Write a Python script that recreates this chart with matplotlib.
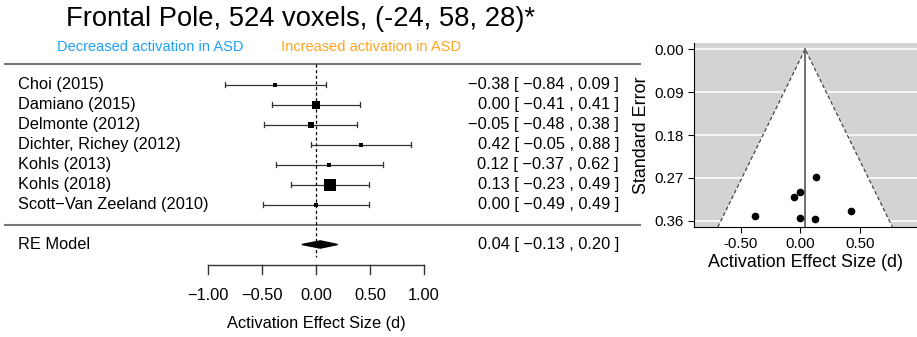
import numpy as np
import matplotlib.pyplot as plt
from matplotlib.patches import Polygon

plt.rcParams['font.family'] = ['Liberation Sans', 'DejaVu Sans']

# данные исследований
studies = ["Choi (2015)", "Damiano (2015)", "Delmonte (2012)", "Dichter, Richey (2012)",
           "Kohls (2013)", "Kohls (2018)", "Scott\u2212Van Zeeland (2010)"]
est = [-0.38, 0.00, -0.05, 0.42, 0.12, 0.13, 0.00]
lo = [-0.84, -0.41, -0.48, -0.05, -0.37, -0.23, -0.49]
hi = [0.09, 0.41, 0.38, 0.88, 0.62, 0.49, 0.49]
weights = [4.7, 7.3, 6.3, 4.3, 4.0, 11.7, 3.7]   # размер квадратов

re_est, re_lo, re_hi = 0.04, -0.13, 0.20
xticks = [-1.0, -0.5, 0.0, 0.5, 1.0]

# данные для funnel plot (как на картинке)
fun_x = [-0.38, 0.00, 0.12, 0.42, 0.13, 0.00, -0.05]
fun_se = [0.350, 0.354, 0.356, 0.340, 0.268, 0.299, 0.310]
se_ticks = [0.00, 0.09, 0.18, 0.27, 0.36]
fun_xticks = [-0.5, 0.0, 0.5]

W, H = 917, 337
fig = plt.figure(figsize=(W / 100, H / 100), dpi=100)

# ---------- forest plot ----------
fw = 645
ax = fig.add_axes([0, 0, fw / W, 1])
ppu = 108.0                       # пикселей на единицу эффекта
x0 = -1 - 208 / ppu
ax.set_xlim(x0, x0 + fw / ppu)
ax.set_ylim((H - 84.5) / 20, -84.5 / 20)
ax.axis('off')

def px(p):
    return x0 + p / ppu

def fmt(v):
    return f"{v:.2f}".replace('-', '\u2212')

fs = 11.8
for i, name in enumerate(studies):
    ax.plot([lo[i], hi[i]], [i, i], color='#333333', lw=0.9)
    ax.plot([lo[i], lo[i]], [i - 0.12, i + 0.12], color='#333333', lw=0.9)
    ax.plot([hi[i], hi[i]], [i - 0.12, i + 0.12], color='#333333', lw=0.9)
    ax.plot(est[i], i, 's', color='black', ms=weights[i] * 0.72, mew=0)
    ax.text(px(18), i, name, ha='left', va='center', fontsize=fs)
    ax.text(px(619), i, f"{fmt(est[i])} [ {fmt(lo[i])} , {fmt(hi[i])} ]",
            ha='right', va='center', fontsize=fs)

re_row = len(studies) + 1
dia = Polygon([[re_lo, re_row], [re_est, re_row - 0.18], [re_hi, re_row], [re_est, re_row + 0.18]],
              closed=True, color='black')
ax.add_patch(dia)
ax.text(px(18), re_row, "RE Model", ha='left', va='center', fontsize=fs)
ax.text(px(619), re_row, f"{fmt(re_est)} [ {fmt(re_lo)} , {fmt(re_hi)} ]",
        ha='right', va='center', fontsize=fs)

# разделительные линии
ax.plot([px(5), px(640)], [-1.05, -1.05], color='#777777', lw=1.5)
ax.plot([px(5), px(640)], [len(studies), len(studies)], color='#777777', lw=1.5)

# пунктир в нуле
ax.plot([0, 0], [-1.05, re_row + 0.6], color='black', lw=0.9, ls=(0, (2.5, 2)))

# ось
ax_row = re_row + 1
ax.plot([xticks[0], xticks[-1]], [ax_row, ax_row], color='#333333', lw=1.0)
for t in xticks:
    ax.plot([t, t], [ax_row, ax_row + 0.45], color='#333333', lw=1.0)
    ax.text(t, ax_row + 1.55, fmt(t), ha='center', va='center', fontsize=fs)
ax.text(0, ax_row + 2.95, "Activation Effect Size (d)", ha='center', va='center', fontsize=fs)

# заголовки
fig.text(301 / W, 1 - 19 / H, "Frontal Pole, 524 voxels, (-24, 58, 28)*",
         ha='center', va='center', fontsize=19.7)
fig.text(150 / W, 1 - 47 / H, "Decreased activation in ASD", color='#1EA0F8',
         ha='center', va='center', fontsize=10.5)
fig.text(371 / W, 1 - 47 / H, "Increased activation in ASD", color='#FFA520',
         ha='center', va='center', fontsize=10.5)

# ---------- funnel plot ----------
l, r, t, b = 694, 917, 43, 227
ax2 = fig.add_axes([l / W, 1 - b / H, (r - l) / W, (b - t) / H])
ymax = 0.373
ax2.set_xlim(-0.891, 0.977)
ax2.set_ylim(ymax, -0.013)
ax2.set_facecolor('#D3D3D3')
for s in se_ticks:
    ax2.axhline(s, color='white', lw=1.2, zorder=1)
tri = Polygon([[re_est - 1.96 * ymax, ymax], [re_est, 0], [re_est + 1.96 * ymax, ymax]],
              closed=True, facecolor='white', edgecolor='none', zorder=2)
ax2.add_patch(tri)
ax2.plot([re_est - 1.96 * ymax, re_est, re_est + 1.96 * ymax], [ymax, 0, ymax],
         color='#444444', lw=0.9, ls=(0, (3, 2)), zorder=3)
ax2.plot([re_est, re_est], [0, ymax], color='#555555', lw=1.2, zorder=3)
ax2.plot(fun_x, fun_se, 'o', color='black', ms=4.5, zorder=4)

for sp in ['top', 'right']:
    ax2.spines[sp].set_visible(False)
ax2.tick_params(length=4)
ax2.set_yticks(se_ticks)
ax2.set_yticklabels([f"{s:.2f}" for s in se_ticks], fontsize=10.8)
ax2.set_xticks(fun_xticks)
ax2.set_xticklabels([f"{v:.2f}" for v in fun_xticks], fontsize=10.8)
ax2.set_ylabel("Standard Error", fontsize=12.9, labelpad=3)
ax2.set_xlabel("Activation Effect Size (d)", fontsize=12.9, labelpad=2)

fig.savefig("out.png", dpi=100)
